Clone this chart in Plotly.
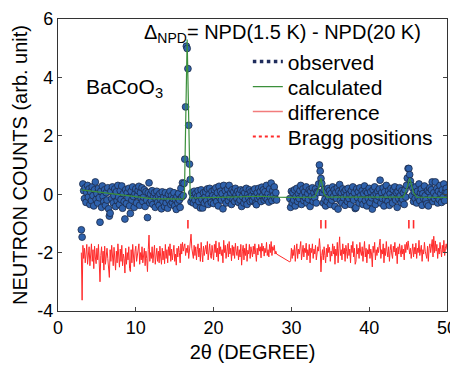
import numpy as np
import plotly.graph_objects as go

# ---- data -------------------------------------------------------------
# 2-theta grid (0.1 deg step), with a gap between 28.1 and 29.8 deg
two_theta_a = np.round(np.arange(3.0, 28.15, 0.1), 1)
two_theta_b = np.round(np.arange(29.8, 50.05, 0.1), 1)
two_theta = np.concatenate([two_theta_a, two_theta_b])

observed = [
    -1.22, -1.47, 0.35, 0.12, -0.15, 0.22, -0.28, 0.05, 0.30, -0.10,   # 3
    0.18, -0.35, 0.08, -0.22, 0.25, -0.05, -0.40, 0.15, 0.42, -0.18,   # 4
    0.02, -0.30, 0.20, -0.12, -0.96, 0.10, -0.45, 0.28, -0.08, -0.25,  # 5
    0.15, -0.38, 0.05, -0.20, 0.22, -0.50, -0.75, -0.65, 0.10, -0.15,  # 6
    0.25, -0.30, -0.05, 0.18, -0.42, 0.08, -0.22, 0.30, -0.10, -0.35,  # 7
    0.12, -0.18, 0.28, -0.48, 0.02, -0.25, -0.85, 0.15, -0.32, 0.05,   # 8
    -0.12, 0.20, -0.40, -0.66, 0.10, -0.20, 0.25, -0.08, -0.45, 0.02,  # 9
    0.18, -0.30, -0.05, 0.12, 0.27, -0.38, 0.05, -0.15, 0.22, -0.25,   # 10
    -0.10, 0.15, -0.42, 0.08, -0.20, -0.80, 0.05, 0.39, -0.30, 0.00,   # 11
    -0.22, 0.12, -0.35, -0.08, 0.05, -0.45, -0.15, 0.10, -0.28, -0.05, # 12
    -0.38, 0.02, -0.18, -0.50, 0.08, -0.25, -0.10, -0.42, 0.05, -0.30, # 13
    -0.12, -0.48, 0.00, -0.22, 0.10, -0.35, -0.05, -0.28, -0.15, 0.05, # 14
    -0.40, -0.18, -0.52, -0.08, -0.30, 0.02, -0.20, -0.45, 0.20, -0.10,# 15
    0.39, -0.05, 0.37, 1.20, 2.99, 5.07, 4.99, 4.30, 2.36, 1.03,       # 16
    0.50, -0.26, 0.05, -0.15, -0.30, 0.10, -0.20, 0.02, -0.38, -0.08,  # 17
    0.12, -0.25, -0.05, -0.47, 0.15, -0.18, -0.47, 0.05, -0.30, -0.10, # 18
    0.08, -0.22, 0.18, -0.35, -0.02, 0.20, -0.15, -0.28, 0.10, -0.05,  # 19
    -0.32, 0.15, -0.10, 0.22, -0.25, 0.05, -0.40, 0.27, -0.12, 0.10,   # 20
    -0.20, 0.02, -0.50, 0.30, -0.15, 0.12, -0.30, -0.05, 0.18, -0.22,  # 21
    0.30, -0.10, 0.05, -0.35, 0.15, -0.18, 0.08, -0.25, 0.20, -0.02,   # 22
    -0.15, 0.10, -0.28, 0.02, -0.20, 0.15, -0.42, -0.08, 0.12, -0.30,  # 23
    0.05, -0.18, 0.20, -0.35, 0.00, -0.12, 0.15, -0.25, 0.08, -0.05,   # 24
    -0.22, 0.12, -0.10, 0.18, -0.30, -0.36, 0.05, -0.15, 0.20, -0.08,  # 25
    0.10, -0.25, 0.24, -0.05, 0.15, -0.20, 0.08, -0.12, 0.30, -0.18,   # 26
    0.02, -0.27, 0.18, -0.10, 0.38, -0.22, 0.12, -0.05, 0.25, -0.15,   # 27
    0.05, -0.20,                                                       # 28.0-28.1
    -0.15, -0.45,                                                      # 29.8-29.9
    0.10, -0.30, 0.05, -0.20, 0.15, -0.40, -0.08, 0.20, -0.25, 0.02,   # 30
    -0.15, 0.12, 0.30, -0.35, -0.05, 0.18, -0.22, 0.08, -0.12, 0.25,   # 31
    -0.30, 0.02, -0.18, 0.15, -0.42, 0.10, -0.08, 0.22, -0.25, 0.05,   # 32
    -0.12, 0.18, -0.30, 0.08, 0.05, 0.35, 1.00, 0.79, 0.54, 0.37,      # 33
    0.05, -0.30, 0.15, -0.18, -0.40, 0.08, -0.25, 0.20, -0.10, 0.12,   # 34
    -0.35, 0.02, -0.20, 0.25, -0.08, 0.15, -0.42, 0.05, -0.15, 0.22,   # 35
    -0.51, 0.10, 0.33, -0.22, 0.05, -0.30, 0.18, -0.12, 0.08, -0.38,   # 36
    0.15, -0.05, -0.25, 0.20, -0.15, 0.02, -0.35, 0.12, -0.08, 0.25,   # 37
    -0.20, 0.05, -0.49, -0.46, 0.18, -0.12, 0.08, -0.30, 0.22, -0.05,  # 38
    -0.18, 0.12, -0.35, 0.02, 0.28, -0.22, 0.10, -0.40, 0.05, -0.15,   # 39
    0.20, -0.28, 0.08, -0.12, -0.51, 0.15, -0.05, 0.25, -0.35, 0.02,   # 40
    -0.20, 0.10, -0.08, 0.18, 0.48, -0.30, 0.05, -0.15, 0.22, -0.40,   # 41
    0.08, -0.18, 0.30, -0.05, -0.25, 0.12, -0.38, 0.02, 0.20, -0.12,   # 42
    -0.30, 0.15, -0.08, 0.25, -0.20, 0.05, -0.45, 0.10, -0.15, 0.22,   # 43
    -0.05, -0.28, 0.12, -0.18, 0.05, -0.35, 0.15, -0.10, 0.30, 0.55,   # 44
    0.88, 0.88, 0.67, 0.45, 0.30, -0.05, 0.20, -0.25, 0.08, -0.15,     # 45
    0.25, -0.30, 0.10, -0.12, 0.35, -0.22, 0.05, 0.18, -0.38, 0.02,    # 46
    -0.15, 0.28, -0.05, -0.20, -0.33, 0.12, -0.40, 0.08, 0.22, -0.10,  # 47
    0.15, 0.42, -0.25, 0.05, -0.15, 0.42, -0.05, 0.20, -0.30, 0.10,    # 48
    -0.18, 0.30, 0.02, -0.28, 0.15, -0.10, 0.35, -0.22, 0.08, 0.20,    # 49
    0.05,                                                              # 50.0
]

difference = [
    -2.00, -3.63, -1.75, -2.20, -1.85, -2.35, -2.05, -1.72, -2.40, -2.10,  # 3
    -1.80, -2.45, -2.00, -1.70, -2.30, -1.90, -2.55, -1.78, -2.15, -2.38,  # 4
    -1.85, -2.25, -1.72, -2.50, -3.00, -2.10, -1.80, -2.35, -1.95, -2.60,  # 5
    -1.78, -2.40, -2.05, -1.85, -2.20, -2.55, -2.85, -1.90, -2.30, -1.75,  # 6
    -2.15, -2.45, -1.82, -2.25, -2.60, -1.95, -2.35, -1.70, -2.20, -2.50,  # 7
    -1.88, -2.30, -1.75, -2.45, -2.05, -2.20, -2.70, -1.85, -2.40, -2.00,  # 8
    -2.25, -1.80, -2.55, -2.65, -1.90, -2.35, -1.72, -2.15, -2.48, -1.95,  # 9
    -1.78, -2.30, -2.05, -1.85, -1.70, -2.40, -2.00, -2.25, -1.80, -2.35,  # 10
    -2.10, -1.85, -2.45, -1.95, -2.20, -2.65, -1.90, -1.40, -2.30, -2.00,  # 11
    -2.20, -1.80, -2.35, -2.05, -1.75, -2.40, -2.10, -1.85, -2.30, -1.95,  # 12
    -2.35, -1.78, -2.15, -2.40, -1.85, -2.25, -1.95, -2.38, -1.72, -2.20,  # 13
    -1.90, -2.35, -1.80, -2.10, -1.70, -2.30, -1.88, -2.25, -2.00, -1.75,  # 14
    -2.30, -2.05, -2.43, -1.85, -2.15, -1.78, -2.00, -2.35, -1.70, -2.05,  # 15
    -1.65, -1.95, -1.80, -1.70, -2.10, -1.85, -2.00, -1.75, -2.20, -1.90,  # 16
    -1.60, -1.37, -1.85, -2.05, -2.20, -1.75, -2.10, -1.80, -2.25, -1.90,  # 17
    -1.70, -2.15, -1.85, -2.30, -1.65, -2.00, -2.32, -1.78, -2.10, -1.90,  # 18
    -1.75, -2.05, -1.62, -2.25, -1.88, -1.70, -2.10, -2.20, -1.75, -1.95,  # 19
    -2.25, -1.72, -2.00, -1.60, -2.15, -1.85, -2.30, -1.65, -2.05, -1.80,  # 20
    -2.10, -1.90, -2.35, -1.58, -2.00, -1.75, -2.20, -1.95, -1.70, -2.15,  # 21
    -1.62, -2.05, -1.85, -2.28, -1.75, -2.10, -1.80, -2.20, -1.68, -1.95,  # 22
    -2.10, -1.78, -2.25, -1.90, -2.15, -1.72, -2.43, -1.95, -1.75, -2.25,  # 23
    -1.85, -2.10, -1.70, -2.30, -1.92, -2.05, -1.72, -2.20, -1.80, -1.98,  # 24
    -2.15, -1.78, -2.05, -1.70, -2.25, -2.30, -1.85, -2.08, -1.72, -1.95,  # 25
    -1.80, -2.18, -1.68, -1.95, -1.78, -2.12, -1.85, -2.00, -1.65, -2.10,  # 26
    -1.90, -2.15, -1.72, -2.00, -1.62, -2.10, -1.80, -1.92, -1.75, -2.05,  # 27
    -1.95, -2.05,                                                          # 28.0-28.1
    -2.32, -2.28,                                                          # 29.8-29.9
    -1.85, -2.20, -1.90, -2.10, -1.75, -2.30, -1.95, -1.70, -2.20, -1.88,  # 30
    -2.05, -1.78, -1.62, -2.25, -1.92, -1.75, -2.15, -1.85, -2.00, -1.68,  # 31
    -2.25, -1.90, -2.10, -1.72, -2.35, -1.85, -2.00, -1.70, -2.20, -1.88,  # 32
    -2.05, -1.75, -2.25, -1.90, -1.80, -1.95, -1.52, -1.85, -2.66, -2.10,  # 33
    -1.90, -2.25, -1.80, -2.10, -2.35, -1.85, -2.15, -1.72, -2.00, -1.82,  # 34
    -2.30, -1.95, -2.12, -1.70, -2.05, -1.78, -2.40, -1.88, -2.10, -1.65,  # 35
    -2.35, -1.85, -1.46, -2.10, -1.90, -2.25, -1.70, -2.05, -1.85, -2.30,  # 36
    -1.75, -1.95, -2.20, -1.68, -2.10, -1.88, -2.35, -1.75, -2.00, -1.62,  # 37
    -2.15, -1.85, -2.40, -2.30, -1.72, -2.05, -1.85, -2.20, -1.65, -1.98,  # 38
    -2.10, -1.80, -2.30, -1.92, -1.62, -2.15, -1.85, -2.35, -1.90, -2.05,  # 39
    -1.72, -2.20, -1.88, -2.05, -2.49, -1.78, -2.00, -1.65, -2.25, -1.90,  # 40
    -2.10, -1.82, -2.00, -1.75, -1.54, -2.20, -1.90, -2.05, -1.70, -2.35,  # 41
    -1.85, -2.10, -1.62, -1.95, -2.15, -1.80, -2.30, -1.92, -1.72, -2.05,  # 42
    -2.20, -1.78, -1.98, -1.65, -2.10, -1.85, -2.38, -1.80, -2.05, -1.70,  # 43
    -1.95, -2.15, -1.75, -2.05, -1.88, -2.25, -1.72, -2.00, -1.65, -1.90,  # 44
    -1.60, -1.80, -2.05, -1.85, -2.20, -1.95, -1.70, -2.15, -1.82, -2.05,  # 45
    -1.68, -2.20, -1.85, -2.00, -1.58, -2.10, -1.88, -1.75, -2.30, -1.90,  # 46
    -2.05, -1.65, -1.95, -2.12, -2.20, -1.78, -2.30, -1.85, -1.70, -2.00,  # 47
    -1.80, -1.55, -2.15, -1.44, -2.00, -1.60, -1.95, -1.72, -2.20, -1.85,  # 48
    -2.05, -1.65, -1.90, -2.15, -1.75, -2.00, -1.58, -2.10, -1.85, -1.70,  # 49
    -1.90,                                                                 # 50.0
]

# calculated profile (knots of the fitted curve)
calc_x = [3.0, 12.0, 16.1, 16.25, 16.6, 17.0, 22.0, 26.0, 28.1, 29.8,
          33.0, 33.5, 33.8, 34.2, 34.6, 44.4, 44.9, 45.2, 45.7, 46.1, 50.0]
calc_y = [0.15, -0.15, -0.17, 0.00, 5.30, -0.13, -0.10, -0.07, -0.10, -0.11,
          -0.10, 0.20, 0.55, 0.00, -0.10, -0.10, 0.25, 0.55, 0.05, -0.10, -0.11]

bragg_x = [16.7, 33.8, 34.4, 45.1, 45.7]
bragg_y = [-1.03, -1.03, -1.03, -1.03, -1.03]

y_tickvals = [-4, -2, 0, 2, 4, 6]
y_ticktext = ["-4", "-2", "0", "2", "4", "6"]
x_tickvals = [0, 10, 20, 30, 40, 50]

n = min(len(two_theta), len(observed))
m = min(len(two_theta), len(difference))

FONT = "Liberation Sans, Arial, sans-serif"
OBS_FILL = "#2f62ad"
OBS_EDGE = "#1c2a48"
GREEN = "#3b8f3b"
RED = "#ff2a2a"

fig = go.Figure()

fig.add_trace(go.Scatter(
    x=two_theta[:n], y=observed[:n], mode="markers",
    marker=dict(size=6.8, color=OBS_FILL, line=dict(color=OBS_EDGE, width=0.8)),
    showlegend=False))
fig.add_trace(go.Scatter(
    x=two_theta[:m], y=difference[:m], mode="lines",
    line=dict(color=RED, width=1), showlegend=False))
fig.add_trace(go.Scatter(
    x=calc_x, y=calc_y, mode="lines",
    line=dict(color=GREEN, width=1.2), name="calculated", legend="legend2"))
fig.add_trace(go.Scatter(
    x=bragg_x, y=bragg_y, mode="markers",
    marker=dict(symbol="line-ns-open", size=6, color=RED, line=dict(color=RED, width=1.6)),
    showlegend=False))

# legend-only entries styled like the original key
fig.add_trace(go.Scatter(
    x=[None], y=[None], mode="lines", name="observed", legend="legend",
    line=dict(color="#1f2c5c", width=3.5, dash="dot")))
fig.add_trace(go.Scatter(
    x=[None], y=[None], mode="lines", name="difference", legend="legend3",
    line=dict(color="#f27c7c", width=1.5)))
fig.add_trace(go.Scatter(
    x=[None], y=[None], mode="lines", name="Bragg positions", legend="legend4",
    line=dict(color=RED, width=2, dash="dot")))

fig.add_annotation(
    text="Δ<sub>NPD</sub>= NPD(1.5 K) - NPD(20 K)", xref="paper", yref="paper",
    x=0.576, y=0.952, xanchor="center", yanchor="middle", showarrow=False,
    font=dict(family=FONT, size=20, color="black"))
fig.add_annotation(
    text="BaCoO<sub>3</sub>", xref="paper", yref="paper",
    x=0.17, y=0.764, xanchor="center", yanchor="middle", showarrow=False,
    font=dict(family=FONT, size=21, color="black"))

leg_common = dict(x=0.488, xanchor="left", yanchor="middle",
                  bgcolor="rgba(0,0,0,0)", font=dict(family=FONT, size=21),
                  itemwidth=30)

# the page body adds an 8px offset, so the figure is 8px smaller
fig.update_layout(
    width=450, height=359,
    margin=dict(l=50, r=11, t=11, b=56),
    paper_bgcolor="white", plot_bgcolor="white",
    font=dict(family=FONT, size=18, color="black"),
    legend=dict(y=0.853, **leg_common),
    legend2=dict(y=0.767, **leg_common),
    legend3=dict(y=0.682, **leg_common),
    legend4=dict(y=0.596, **leg_common),
    xaxis=dict(range=[0, 50], tickvals=x_tickvals, ticks="inside", ticklen=4,
               showline=True, linecolor="#333", linewidth=1.2, mirror=True,
               showgrid=False, zeroline=False, automargin=False,
               title=dict(text="2θ (DEGREE)", font=dict(size=20), standoff=8)),
    yaxis=dict(range=[-4, 6], tickvals=y_tickvals, ticktext=y_ticktext,
               ticks="inside", ticklen=4,
               showline=True, linecolor="#333", linewidth=1.2, mirror="ticks",
               showgrid=False, zeroline=False, automargin=False,
               title=dict(text="NEUTRON COUNTS (arb. unit)", font=dict(size=20), standoff=4)),
)

fig.write_html("out.html")
